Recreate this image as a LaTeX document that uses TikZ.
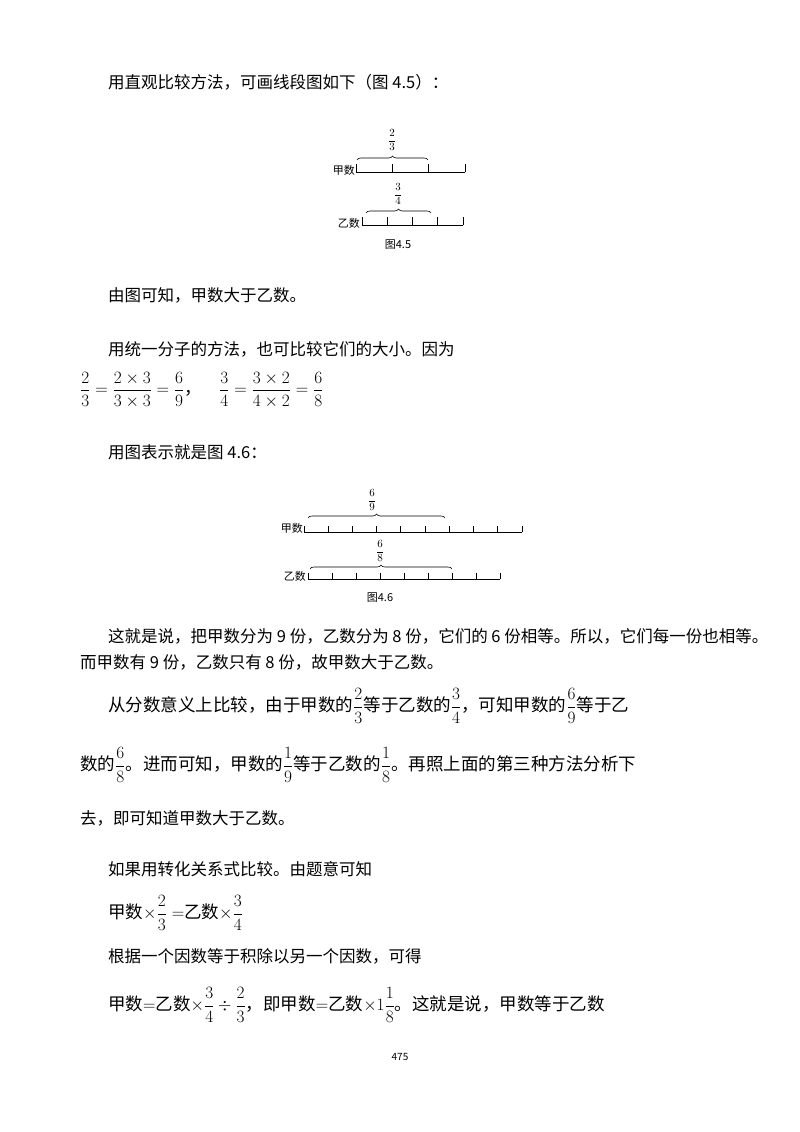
\documentclass[tikz,border=0pt]{standalone}
\usepackage{fontspec}
\setmainfont{Noto Sans CJK SC}
\usetikzlibrary{decorations.pathreplacing}
\begin{document}
\begin{tikzpicture}[x=1pt,y=-1pt,
  txt/.style={anchor=west,inner sep=0pt,font=\fontsize{16.5}{19}\selectfont},
  big/.style={anchor=west,inner sep=0pt,font=\fontsize{17.5}{20}\selectfont},
  small/.style={inner sep=0pt,font=\fontsize{11}{13}\selectfont},
  seg/.style={line width=0.8pt},
  brc/.style={decorate,decoration={brace,amplitude=4pt},line width=0.6pt}]
\useasboundingbox[fill=white] (0,0) rectangle (800,1132);
\node[txt] (l1) at (108,82) {用直观比较方法，可画线段图如下（图 4.5）：};
% Fig 4.5
\draw[seg] (356,172) -- (465,172);
\foreach \i in {0,1,2,3}{\draw[seg] (356+36.33*\i,172) -- ++(0,-8);}
\draw[brc] (357,160) -- (428,160);
\node[small] (f1) at (392,140) {$\displaystyle\frac{2}{3}$};
\node[small,anchor=east] (jia1) at (355,170) {甲数};
\draw[seg] (362,225) -- (463,225);
\foreach \i in {0,1,2,3,4}{\draw[seg] (362+25.25*\i,225) -- ++(0,-8);}
\draw[brc] (366,213) -- (431,213);
\node[small] (f2) at (398,194) {$\displaystyle\frac{3}{4}$};
\node[small,anchor=east] (yi1) at (360,223) {乙数};
\node[small] (c1) at (398,245) {图4.5};
\node[txt] (l2) at (108,295) {由图可知，甲数大于乙数。};
\node[txt] (l3) at (108,349) {用统一分子的方法，也可比较它们的大小。因为};
\node[big] (eq1) at (80,390) {$\displaystyle\frac{2}{3}=\frac{2\times3}{3\times3}=\frac{6}{9}$，\quad$\displaystyle\frac{3}{4}=\frac{3\times2}{4\times2}=\frac{6}{8}$};
\node[txt] (l4) at (108,452) {用图表示就是图 4.6：};
% Fig 4.6
\draw[seg] (304,532) -- (522,532);
\foreach \i in {0,...,9}{\draw[seg] (304+24.22*\i,532) -- ++(0,-6);}
\draw[brc] (308,518) -- (445,518);
\node[small] (f3) at (372,500) {$\displaystyle\frac{6}{9}$};
\node[small,anchor=east] (jia2) at (303,528) {甲数};
\draw[seg] (308,579) -- (500,579);
\foreach \i in {0,...,8}{\draw[seg] (308+24*\i,579) -- ++(0,-6);}
\draw[brc] (310,569) -- (452,569);
\node[small] (f4) at (380,551) {$\displaystyle\frac{6}{8}$};
\node[small,anchor=east] (yi2) at (306,576) {乙数};
\node[small] (c2) at (380,598) {图4.6};
\node[txt] (l5) at (108,636) {这就是说，把甲数分为 9 份，乙数分为 8 份，它们的 6 份相等。所以，它们每一份也相等。};
\node[txt] (l6) at (80,662) {而甲数有 9 份，乙数只有 8 份，故甲数大于乙数。};
\node[big] (l7) at (108,706) {从分数意义上比较，由于甲数的$\displaystyle\frac{2}{3}$等于乙数的$\displaystyle\frac{3}{4}$，可知甲数的$\displaystyle\frac{6}{9}$等于乙};
\node[big] (l8) at (80,765) {数的$\displaystyle\frac{6}{8}$。进而可知，甲数的$\displaystyle\frac{1}{9}$等于乙数的$\displaystyle\frac{1}{8}$。再照上面的第三种方法分析下};
\node[txt] (l9) at (80,818) {去，即可知道甲数大于乙数。};
\node[txt] (l10) at (108,869) {如果用转化关系式比较。由题意可知};
\node[big] (l11) at (108,913) {甲数$\times\displaystyle\frac{2}{3}=$乙数$\times\displaystyle\frac{3}{4}$};
\node[txt] (l12) at (108,956) {根据一个因数等于积除以另一个因数，可得};
\node[big] (l13) at (108,1005) {甲数$=$乙数$\times\displaystyle\frac{3}{4}\div\frac{2}{3}$，即甲数$=$乙数$\times1\displaystyle\frac{1}{8}$。这就是说，甲数等于乙数};
\node[inner sep=0pt,font=\fontsize{10}{12}\selectfont] (pg) at (400,1057) {475};
\end{tikzpicture}
\end{document}
